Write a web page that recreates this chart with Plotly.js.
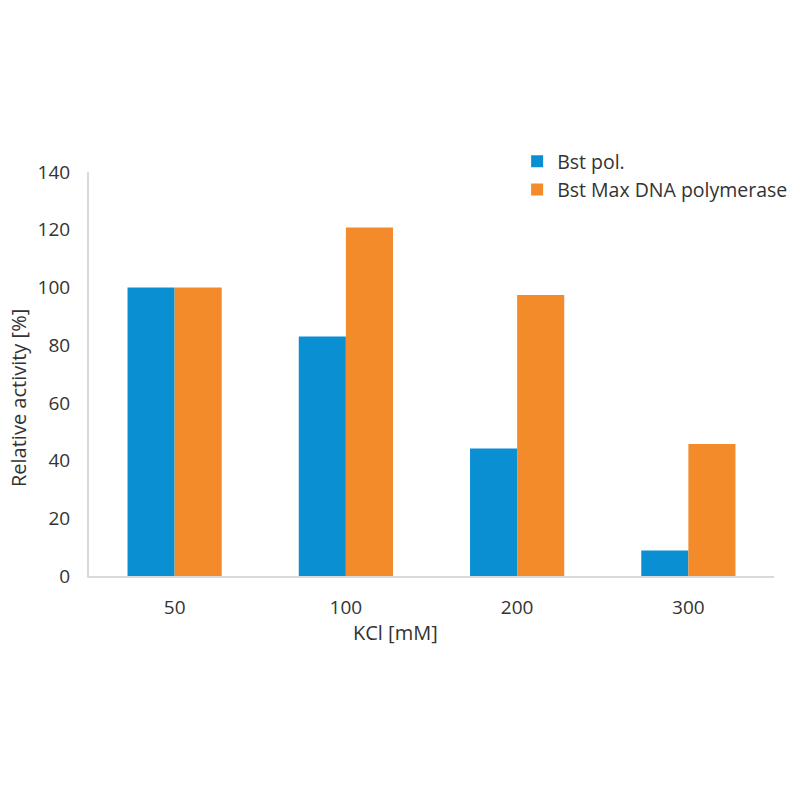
<!DOCTYPE html>
<html>
<head>
<meta charset="utf-8">
<script src="https://cdn.plot.ly/plotly-3.0.1.min.js"></script>
<style>
  html, body { margin: 0; padding: 0; background: #fff; }
  #chart { width: 800px; height: 800px; }
</style>
</head>
<body>
<div id="chart"></div>
<script>
const categories = ["50", "100", "200", "300"];
const bstPol = [100, 83, 44.2, 8.8];
const bstMax = [100, 120.8, 97.4, 45.7];
const seriesNames = ["Bst pol.", "Bst Max DNA polymerase"];
const yTicks = [0, 20, 40, 60, 80, 100, 120, 140];

const BLUE = "#0a8fd3";
const ORANGE = "#f38b2a";
const TEXT = "#333333";
const FONT = "Open Sans, sans-serif";

const traces = [
  {
    type: "bar",
    name: seriesNames[0],
    x: categories,
    y: bstPol,
    marker: { color: BLUE },
    hoverinfo: "skip"
  },
  {
    type: "bar",
    name: seriesNames[1],
    x: categories,
    y: bstMax,
    marker: { color: ORANGE },
    hoverinfo: "skip"
  }
];

// plot area: 89..774 px across, 172..576 px down
const plotTop = 172;
const plotBottom = 224;
const plotH = 800 - plotTop - plotBottom;

const layout = {
  width: 800,
  height: 800,
  margin: { l: 89, r: 26, t: plotTop, b: plotBottom, autoexpand: false },
  paper_bgcolor: "#fff",
  plot_bgcolor: "#fff",
  font: { family: FONT, size: 19, color: TEXT },
  barmode: "group",
  bargap: 0.45,
  bargroupgap: 0,
  showlegend: true,
  legend: {
    x: 0.625,
    y: 1 + (plotTop - 142) / plotH,
    xref: "paper", yref: "paper",
    xanchor: "left", yanchor: "top",
    orientation: "v",
    font: { family: FONT, size: 19.5, color: TEXT },
    itemwidth: 30,
    tracegroupgap: 0,
    bgcolor: "rgba(0,0,0,0)"
  },
  xaxis: {
    type: "category",
    showgrid: false,
    zeroline: false,
    showline: true,
    linecolor: "#d9d9d9",
    linewidth: 2,
    ticks: "",
    ticklabelstandoff: 13,
    tickfont: { family: FONT, size: 19, color: TEXT }
  },
  yaxis: {
    range: [0, 140],
    tickvals: yTicks,
    showgrid: false,
    zeroline: false,
    showline: true,
    linecolor: "#d9d9d9",
    linewidth: 2,
    ticks: "",
    ticklabelstandoff: 13,
    tickfont: { family: FONT, size: 19, color: TEXT }
  },
  annotations: [
    {
      text: "Relative activity [%]",
      xref: "paper", yref: "paper",
      x: -0.104, y: 0.44,
      xanchor: "center", yanchor: "middle",
      textangle: -90,
      showarrow: false,
      font: { family: FONT, size: 20, color: TEXT }
    },
    {
      text: "KCl [mM]",
      xref: "paper", yref: "paper",
      x: 0.448, y: -0.141,
      xanchor: "center", yanchor: "middle",
      showarrow: false,
      font: { family: FONT, size: 20, color: TEXT }
    }
  ]
};

Plotly.newPlot("chart", traces, layout, { staticPlot: true, displayModeBar: false });
</script>
</body>
</html>
